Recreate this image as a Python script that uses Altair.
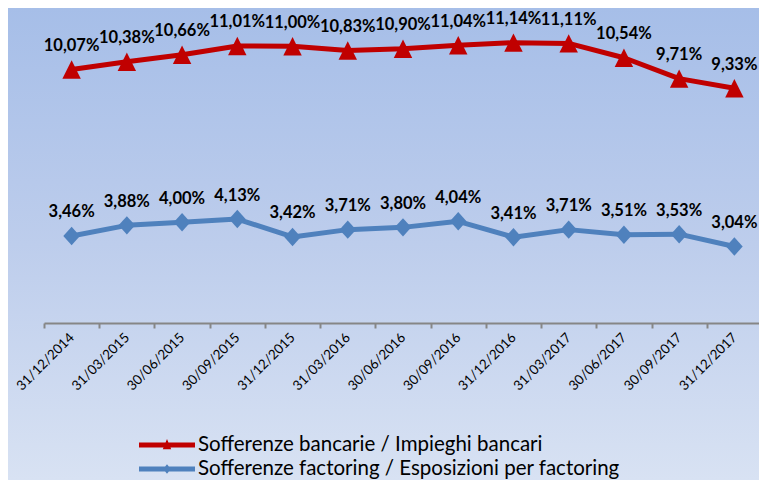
import altair as alt
import pandas as pd

dates = ["31/12/2014", "31/03/2015", "30/06/2015", "30/09/2015", "31/12/2015",
         "31/03/2016", "30/06/2016", "30/09/2016", "31/12/2016", "31/03/2017",
         "30/06/2017", "30/09/2017", "31/12/2017"]
bank = [10.07, 10.38, 10.66, 11.01, 11.00, 10.83, 10.90, 11.04, 11.14, 11.11, 10.54, 9.71, 9.33]
fact = [3.46, 3.88, 4.00, 4.13, 3.42, 3.71, 3.80, 4.04, 3.41, 3.71, 3.51, 3.53, 3.04]
series = ["Sofferenze bancarie / Impieghi bancari",
          "Sofferenze factoring / Esposizioni per factoring"]
colors = ["#C00000", "#4F81BD"]

rows = []
for s, vals in zip(series, [bank, fact]):
    for d, v in zip(dates, vals):
        rows.append({"date": d, "series": s, "value": v,
                     "label": f"{v:.2f}".replace(".", ",") + "%"})
df = pd.DataFrame(rows)

W, H = 715, 302
PADL, PADT = 36, 13
FONT = "Lato"

x_enc = alt.X("date:N", sort=dates,
              scale=alt.Scale(type="band", range=[0, 718], paddingInner=0, paddingOuter=0),
              axis=alt.Axis(title=None, labelAngle=-45, labelAlign="right", labelBaseline="middle",
                            tickBand="extent", domainColor="#868686", domainWidth=2,
                            tickColor="#868686", tickWidth=2, tickSize=5, labelPadding=7,
                            labelFont=FONT, labelFontSize=13.5, labelFontWeight="normal",
                            labelColor="black", grid=False, zindex=1))
y_enc = alt.Y("value:Q", scale=alt.Scale(domain=[0, 12]), axis=None)

bg = alt.Chart(pd.DataFrame({"bg": [0]})).mark_rect(
    fill=alt.LinearGradient(gradient="linear", x1=0, x2=0, y1=0, y2=1,
                            stops=[alt.GradientStop(color="#a6bee8", offset=0),
                                   alt.GradientStop(color="#bdcdec", offset=0.5),
                                   alt.GradientStop(color="#d8e2f3", offset=1)])
).encode(x=alt.value(-PADL), x2=alt.value(W), y=alt.value(-PADT), y2=alt.value(472 - PADT))

base = alt.Chart(df)
layers = [bg]
marker_paths = ["M0,-1 L1,1 L-1,1 Z", "M0,-1 L0.9,0 L0,1 L-0.9,0 Z"]
for s, c in zip(series, colors):
    sub = base.transform_filter(alt.datum.series == s)
    layers.append(sub.mark_line(color=c, strokeWidth=5, strokeJoin="round").encode(x=x_enc, y=y_enc))
for s, c, p in zip(series, colors, marker_paths):
    sub = base.transform_filter(alt.datum.series == s)
    layers.append(sub.mark_point(shape=p, filled=True, color=c, size=340, opacity=1,
                                 strokeWidth=0).encode(x=x_enc, y=y_enc))

labels = base.mark_text(font=FONT, fontSize=16.5, fontWeight="bold", color="black",
                        baseline="alphabetic", dy=-18.5).encode(x=x_enc, y=y_enc, text="label:N")
layers.append(labels)

legend_paths = [
    "M-1,-0.085 L1,-0.085 L1,0.085 L-1,0.085 Z M-0.15,0.15 L0,-0.21 L0.15,0.15 Z",
    "M-1,-0.085 L1,-0.085 L1,0.085 L-1,0.085 Z M0,-0.17 L0.14,0 L0,0.17 L-0.14,0 Z",
]
leg = alt.Legend(orient="none", legendX=95, legendY=414, title=None, symbolSize=3136,
                 clipHeight=20, labelFont=FONT, labelFontSize=20.5, labelColor="black",
                 labelOffset=3, rowPadding=3, symbolStrokeWidth=0, labelLimit=1000,
                 direction="vertical", symbolOpacity=1)
legend_layer = base.transform_filter("false").mark_point(filled=True, opacity=1, size=3136).encode(
    x=x_enc, y=y_enc,
    color=alt.Color("series:N", scale=alt.Scale(domain=series, range=colors), legend=leg),
    shape=alt.Shape("series:N", scale=alt.Scale(domain=series, range=legend_paths), legend=leg),
)
layers.append(legend_layer)

chart = alt.layer(*layers).properties(
    width=W, height=H,
    autosize=alt.AutoSizeParams(type="none"),
    padding={"left": PADL, "top": PADT, "right": 0, "bottom": 472 - PADT - H},
).configure_view(stroke=None)

chart.save("out.html", embed_options={"renderer": "svg", "actions": False})
